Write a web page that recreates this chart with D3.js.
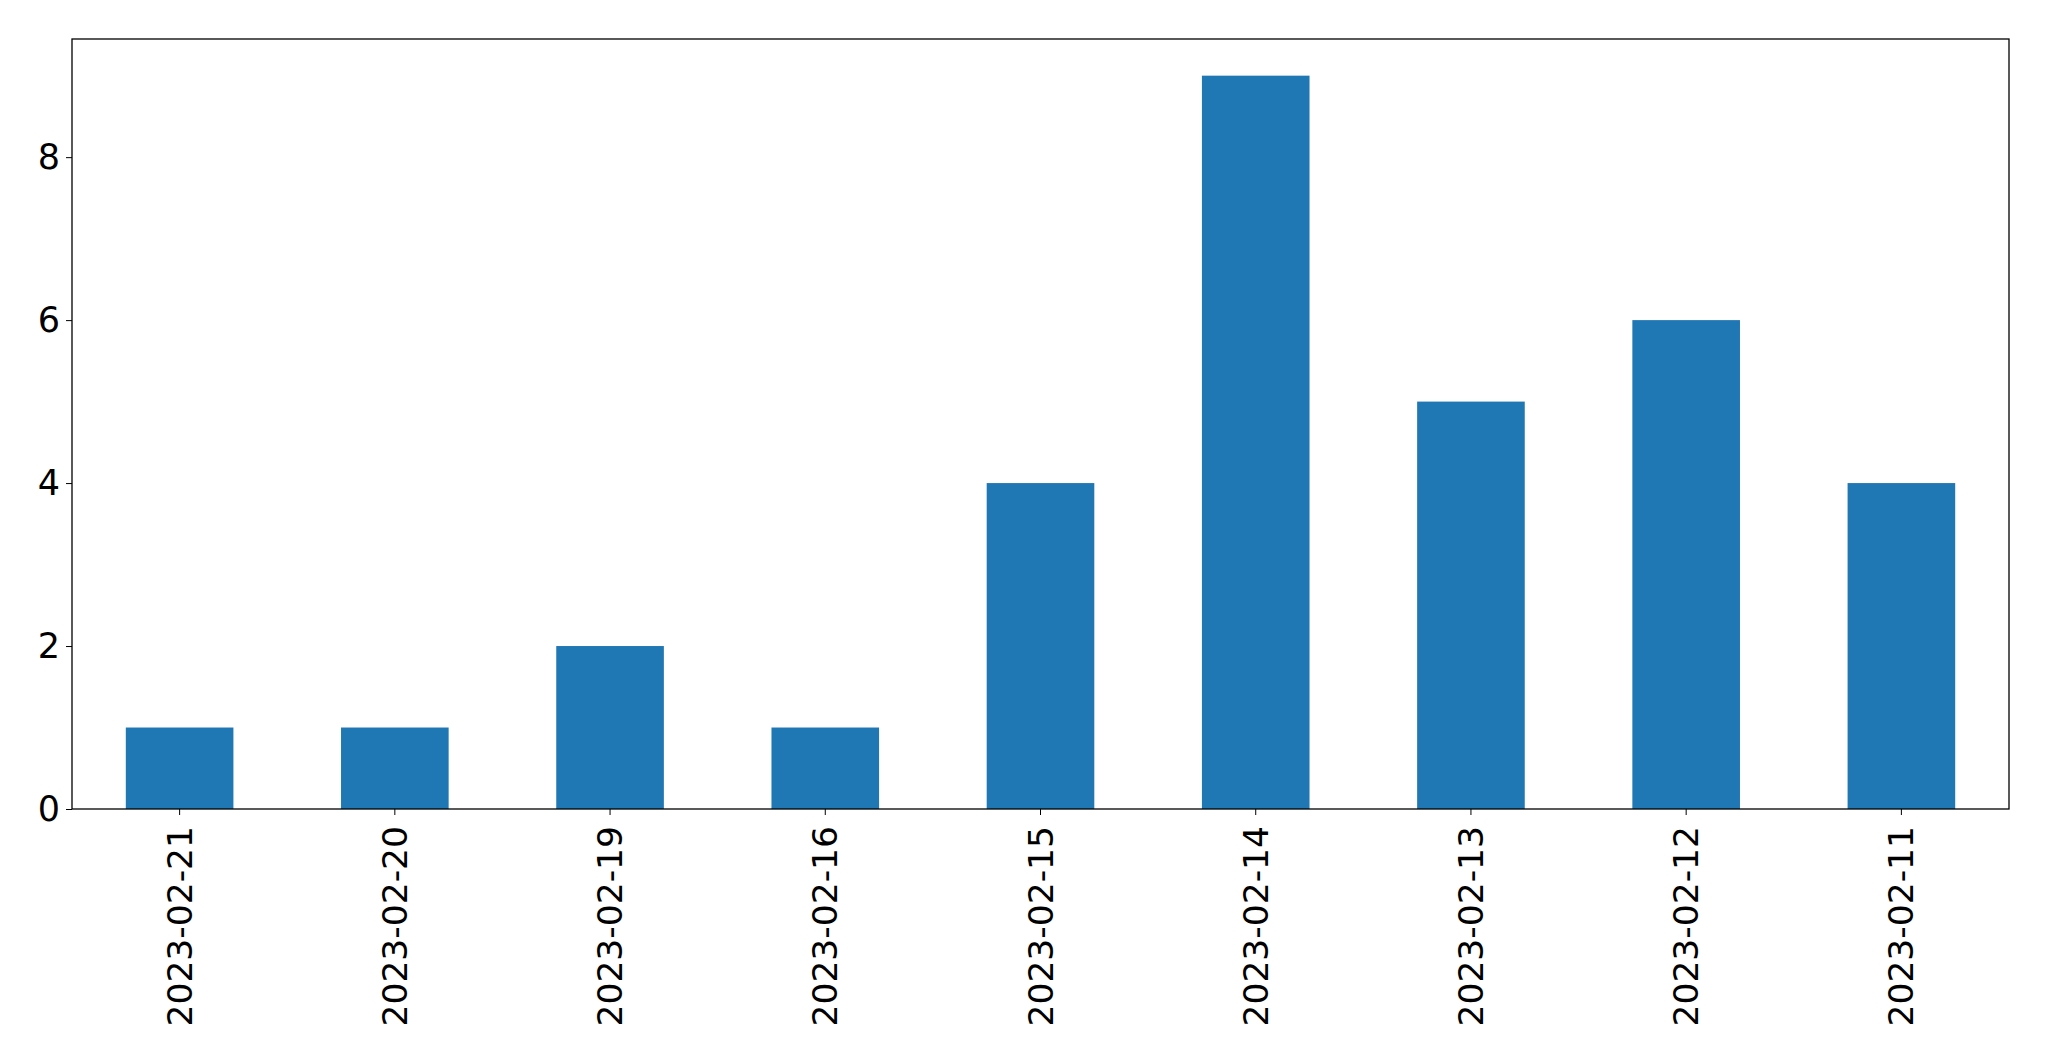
<!DOCTYPE html>
<html>
<head>
<meta charset="utf-8">
<script src="https://cdn.jsdelivr.net/npm/d3@7"></script>
<style>
  body{margin:0;background:#fff;}
  text{font-family:"DejaVu Sans",sans-serif;}
</style>
</head>
<body>
<div class="container"></div>
<script>
const dates=["2023-02-21","2023-02-20","2023-02-19","2023-02-16","2023-02-15","2023-02-14","2023-02-13","2023-02-12","2023-02-11"];
const counts=[1,1,2,1,4,9,5,6,4];
const yTicks=[0,2,4,6,8];

const W=2049,H=1061;
const margin={left:72,right:W-2009,top:39,bottom:H-809};

const svg=d3.select('.container')
  .append("svg")
  .attr("width",W)
  .attr("height",H);

// band scale with padding so that bars are 0.5 of a category step
const x=d3.scaleBand()
  .domain(dates)
  .range([margin.left,W-margin.right])
  .paddingInner(0.5)
  .paddingOuter(0.25);

const y=d3.scaleLinear()
  .domain([0,d3.max(counts)*1.05])
  .range([H-margin.bottom,margin.top]);

svg.selectAll("rect.bar")
  .data(dates)
  .enter()
  .append("rect")
  .attr("class","bar")
  .attr("x",d=>x(d))
  .attr("y",(d,i)=>y(counts[i]))
  .attr("width",x.bandwidth())
  .attr("height",(d,i)=>y(0)-y(counts[i]))
  .attr("fill","#1f77b4");

let xAxis=svg.append("g")
  .attr("transform",`translate(0,${H-margin.bottom})`)
  .call(d3.axisBottom(x).tickSizeOuter(0).tickSize(6).tickPadding(12));
xAxis.select(".domain").remove();
xAxis.selectAll("text")
  .attr("font-size",34.5)
  .attr("font-family","DejaVu Sans")
  .attr("fill","#000")
  .attr("transform","rotate(-90)")
  .attr("text-anchor","end")
  .attr("x",-17)
  .attr("y",0)
  .attr("dy","0.35em");

let yAxis=svg.append("g")
  .attr("transform",`translate(${margin.left},0)`)
  .call(d3.axisLeft(y).tickValues(yTicks).tickSize(6).tickPadding(6).tickFormat(d3.format("d")));
yAxis.select(".domain").remove();
yAxis.selectAll("text")
  .attr("font-size",35)
  .attr("font-family","DejaVu Sans")
  .attr("fill","#000");

// frame
svg.append("rect")
  .attr("x",margin.left)
  .attr("y",margin.top)
  .attr("width",W-margin.left-margin.right)
  .attr("height",H-margin.top-margin.bottom)
  .attr("fill","none")
  .attr("stroke","#000")
  .attr("stroke-width",1.3);
</script>
</body>
</html>
